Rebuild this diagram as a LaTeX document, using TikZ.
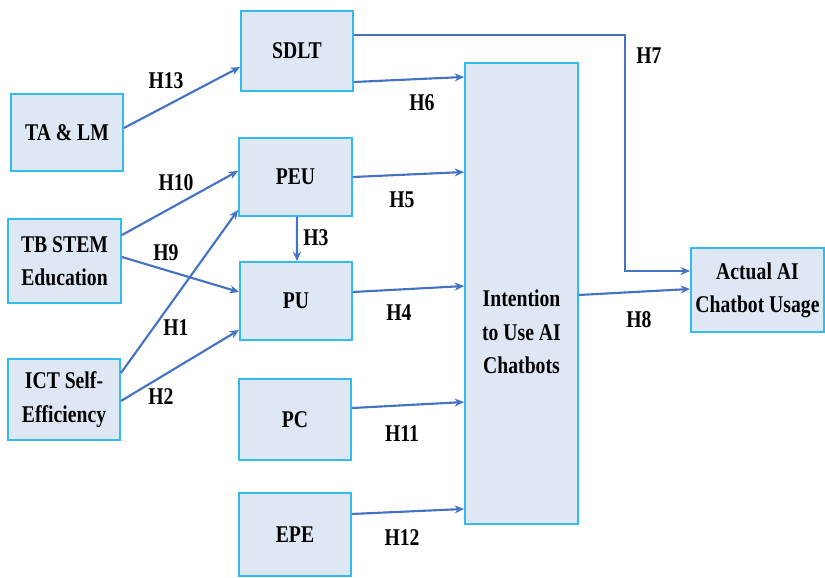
\documentclass[tikz,border=0pt]{standalone}
\usepackage{fontspec}
\setmainfont{Liberation Serif}[
  BoldFont={Liberation Serif Bold},
  FakeStretch=0.82]
\usetikzlibrary{arrows.meta}
\definecolor{boxfill}{HTML}{DEE8F4}
\definecolor{boxline}{HTML}{33BBEE}
\definecolor{arrowblue}{HTML}{4472C4}
\begin{document}
\begin{tikzpicture}[x=0.75pt,y=-0.75pt,
  font=\fontsize{18}{25}\selectfont\bfseries,
  box/.style 2 args={draw=boxline, fill=boxfill, line width=1.5pt,
    minimum width=#1*0.75pt, minimum height=#2*0.75pt, inner sep=0pt,
    align=center},
  link/.style={draw=arrowblue, line width=1.6pt,
    -{Stealth[length=7pt,width=6pt]}},
  hyp/.style={inner sep=0pt}]
\useasboundingbox (0,0) rectangle (825,578);

% constructs
\node[box={112}{80}]  (sdlt) at (297,51)     {SDLT};
\node[box={112}{77}]  (tam)  at (67,132.5)   {TA \& LM};
\node[box={113}{78}]  (peu)  at (295.5,177)  {PEU};
\node[box={113}{84}]  (tb)   at (64.5,261)   {TB STEM\\Education};
\node[box={112}{78}]  (pu)   at (296,301)    {PU};
\node[box={112}{81}]  (ict)  at (64,399.5)   {ICT Self-\\Efficiency};
\node[box={112}{81}]  (pc)   at (295,419.5)  {PC};
\node[box={112}{83}]  (epe)  at (295,534.5)  {EPE};
\node[box={113}{461}] (int)  at (521.5,293.5) {};
\node[align=center] (inttext) at (521.5,332) {Intention\\to Use AI\\Chatbots};
\node[box={133}{84}]  (act)  at (757.5,290)  {Actual AI\\Chatbot Usage};

% hypothesised paths
\draw[link] ([yshift=3.4pt]tam.east) -- ([yshift=-12pt]sdlt.west);
\draw[link] ([yshift=-23.25pt]sdlt.east) -- ([yshift=162.4pt]int.west);
\coordinate (h7bend) at (625,35);
\draw[link] ([yshift=12pt]sdlt.east) -- (h7bend) |- ([yshift=14.25pt]act.west);
\draw[link] (peu.east) -- ([yshift=91.1pt]int.west);
\draw[link] ([yshift=6.75pt]pu.east) -- ([yshift=5.6pt]int.west);
\draw[link] ([yshift=-1.1pt]int.east) -- ([yshift=0.75pt]act.west);
\draw[link] ([yshift=8.6pt]pc.east) -- ([yshift=-81.4pt]int.west);
\draw[link] ([yshift=15.4pt]epe.east) -- ([yshift=-161.6pt]int.west);
\draw[link] ([xshift=1pt]peu.south) -- ([xshift=0.75pt]pu.north);
\draw[link] ([yshift=19.5pt]tb.east) -- ([yshift=4.5pt]peu.west);
\draw[link] ([yshift=3pt]tb.east) -- ([yshift=6.75pt]pu.west);
\draw[link] ([yshift=19.9pt]ict.east) -- ([yshift=-24.75pt]peu.west);
\draw[link] ([yshift=-1.1pt]ict.east) -- ([yshift=-21.75pt]pu.west);

% hypothesis labels
\node[hyp] (lh13) at (166,81)  {H13};
\node[hyp] (lh10) at (176,183) {H10};
\node[hyp] (lh9)  at (166,253) {H9};
\node[hyp] (lh1)  at (176,328) {H1};
\node[hyp] (lh2)  at (161,397) {H2};
\node[hyp] (lh3)  at (316,238) {H3};
\node[hyp] (lh6)  at (422,103) {H6};
\node[hyp] (lh7)  at (649,56)  {H7};
\node[hyp] (lh5)  at (402,200) {H5};
\node[hyp] (lh4)  at (399,313) {H4};
\node[hyp] (lh8)  at (639,320) {H8};
\node[hyp] (lh11) at (402,434) {H11};
\node[hyp] (lh12) at (402,538) {H12};
\end{tikzpicture}
\end{document}
